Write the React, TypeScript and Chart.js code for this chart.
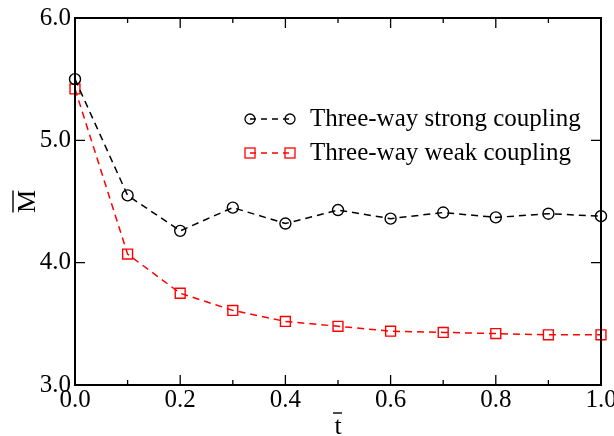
import React, { useEffect, useRef } from "react";
import { Chart, registerables } from "chart.js";

Chart.register(...registerables);

const tValues = [0.0, 0.1, 0.2, 0.3, 0.4, 0.5, 0.6, 0.7, 0.8, 0.9, 1.0];
const strongCoupling = [5.5, 4.55, 4.26, 4.45, 4.32, 4.43, 4.36, 4.41, 4.37, 4.4, 4.38];
const weakCoupling = [5.42, 4.07, 3.75, 3.61, 3.52, 3.48, 3.44, 3.43, 3.42, 3.41, 3.41];
const seriesLabels = ["Three-way strong coupling", "Three-way weak coupling"];
const xMajorTicks = [0.0, 0.2, 0.4, 0.6, 0.8, 1.0];
const xMinorTicks = [0.1, 0.3, 0.5, 0.7, 0.9];
const yMajorTicks = [3.0, 4.0, 5.0, 6.0];

const FONT = "'Liberation Serif', 'Times New Roman', serif";

const framePlugin = {
  id: "framePlugin",
  afterDatasetsDraw(chart: any) {
    const ctx = chart.ctx;
    const { left, right, top, bottom } = chart.chartArea;
    const xs = chart.scales.x;
    const ys = chart.scales.y;
    ctx.save();
    ctx.strokeStyle = "#000";
    ctx.setLineDash([]);
    // ticks
    ctx.lineWidth = 1.3;
    ctx.beginPath();
    xMajorTicks.forEach((v) => {
      const px = xs.getPixelForValue(v);
      ctx.moveTo(px, bottom);
      ctx.lineTo(px, bottom - 10);
      ctx.moveTo(px, top);
      ctx.lineTo(px, top + 10);
    });
    xMinorTicks.forEach((v) => {
      const px = xs.getPixelForValue(v);
      ctx.moveTo(px, bottom);
      ctx.lineTo(px, bottom - 5);
      ctx.moveTo(px, top);
      ctx.lineTo(px, top + 5);
    });
    yMajorTicks.forEach((v) => {
      const py = ys.getPixelForValue(v);
      ctx.moveTo(left, py);
      ctx.lineTo(left + 10, py);
      ctx.moveTo(right, py);
      ctx.lineTo(right - 10, py);
    });
    ctx.stroke();
    // frame
    ctx.lineWidth = 2;
    ctx.strokeRect(left, top, right - left, bottom - top);

    // axis titles
    ctx.fillStyle = "#000";
    ctx.font = `26px ${FONT}`;
    const cx = (left + right) / 2;
    ctx.textAlign = "center";
    ctx.textBaseline = "alphabetic";
    ctx.fillText("t", cx, 434);
    ctx.lineWidth = 1.4;
    ctx.beginPath();
    ctx.moveTo(cx - 5, 413);
    ctx.lineTo(cx + 4, 413);
    ctx.stroke();

    const cy = (top + bottom) / 2;
    ctx.save();
    ctx.translate(35, cy);
    ctx.rotate(-Math.PI / 2);
    ctx.fillText("M", 0, 0);
    ctx.beginPath();
    ctx.moveTo(-11, -22);
    ctx.lineTo(11, -22);
    ctx.stroke();
    ctx.restore();

    // legend
    const rows = [119, 153];
    chart.data.datasets.forEach((ds: any, i: number) => {
      const y = rows[i];
      const x1 = 250;
      const x2 = 290;
      ctx.strokeStyle = ds.borderColor;
      ctx.lineWidth = 1.3;
      ctx.setLineDash([6, 5]);
      ctx.beginPath();
      ctx.moveTo(x1, y);
      ctx.lineTo(x2, y);
      ctx.stroke();
      ctx.setLineDash([]);
      if (ds.pointStyle === "circle") {
        [x1, x2].forEach((x) => {
          ctx.beginPath();
          ctx.arc(x, y, 5, 0, Math.PI * 2);
          ctx.stroke();
        });
      } else {
        [x1, x2].forEach((x) => {
          ctx.strokeRect(x - 5, y - 5, 10, 10);
        });
      }
      ctx.fillStyle = "#000";
      ctx.font = `25px ${FONT}`;
      ctx.textAlign = "left";
      ctx.textBaseline = "alphabetic";
      ctx.fillText(ds.label, 310, y + 7);
    });
    ctx.restore();
  },
};

export default function App() {
  const ref = useRef<HTMLCanvasElement>(null);
  useEffect(() => {
    if (!ref.current) return;
    const chart = new Chart(ref.current, {
      type: "line",
      data: {
        datasets: [
          {
            label: seriesLabels[0],
            data: tValues.map((t, i) => ({ x: t, y: strongCoupling[i] })),
            borderColor: "#000000",
            backgroundColor: "rgba(0,0,0,0)",
            pointBackgroundColor: "rgba(0,0,0,0)",
            pointBorderColor: "#000000",
            borderWidth: 1.5,
            borderDash: [7, 5],
            pointStyle: "circle",
            pointRadius: 5.5,
            pointBorderWidth: 1.4,
            tension: 0,
            clip: false,
          },
          {
            label: seriesLabels[1],
            data: tValues.map((t, i) => ({ x: t, y: weakCoupling[i] })),
            borderColor: "#ff0000",
            backgroundColor: "rgba(0,0,0,0)",
            pointBackgroundColor: "rgba(0,0,0,0)",
            pointBorderColor: "#ff0000",
            borderWidth: 1.5,
            borderDash: [7, 5],
            pointStyle: "rect",
            pointRadius: 7,
            pointBorderWidth: 1.4,
            tension: 0,
            clip: false,
          },
        ],
      },
      options: {
        animation: false,
        responsive: false,
        layout: { padding: { top: 18, right: 13, left: 0, bottom: 0 } },
        plugins: { legend: { display: false }, tooltip: { enabled: false } },
        scales: {
          x: {
            type: "linear",
            min: 0,
            max: 1,
            grid: { display: false, drawTicks: false },
            border: { display: false },
            ticks: {
              stepSize: 0.2,
              padding: 0,
              color: "#000",
              font: { family: FONT, size: 25 },
              maxRotation: 0,
              callback: (v: any) => Number(v).toFixed(1),
            },
            afterFit: (s: any) => {
              s.height = 51;
              s.paddingLeft = 0;
              s.paddingRight = 0;
            },
          },
          y: {
            type: "linear",
            min: 3,
            max: 6,
            grid: { display: false, drawTicks: false },
            border: { display: false },
            ticks: {
              stepSize: 1,
              padding: 4,
              color: "#000",
              font: { family: FONT, size: 25 },
              callback: (v: any) => Number(v).toFixed(1),
            },
            afterFit: (s: any) => {
              s.width = 75;
              s.paddingTop = 0;
              s.paddingBottom = 0;
            },
          },
        },
      },
      plugins: [framePlugin],
    });
    return () => chart.destroy();
  }, []);
  return (
    <div style={{ position: "fixed", left: 0, top: 0, width: 614, height: 436, background: "#fff" }}>
      <canvas ref={ref} width={614} height={436} />
    </div>
  );
}
